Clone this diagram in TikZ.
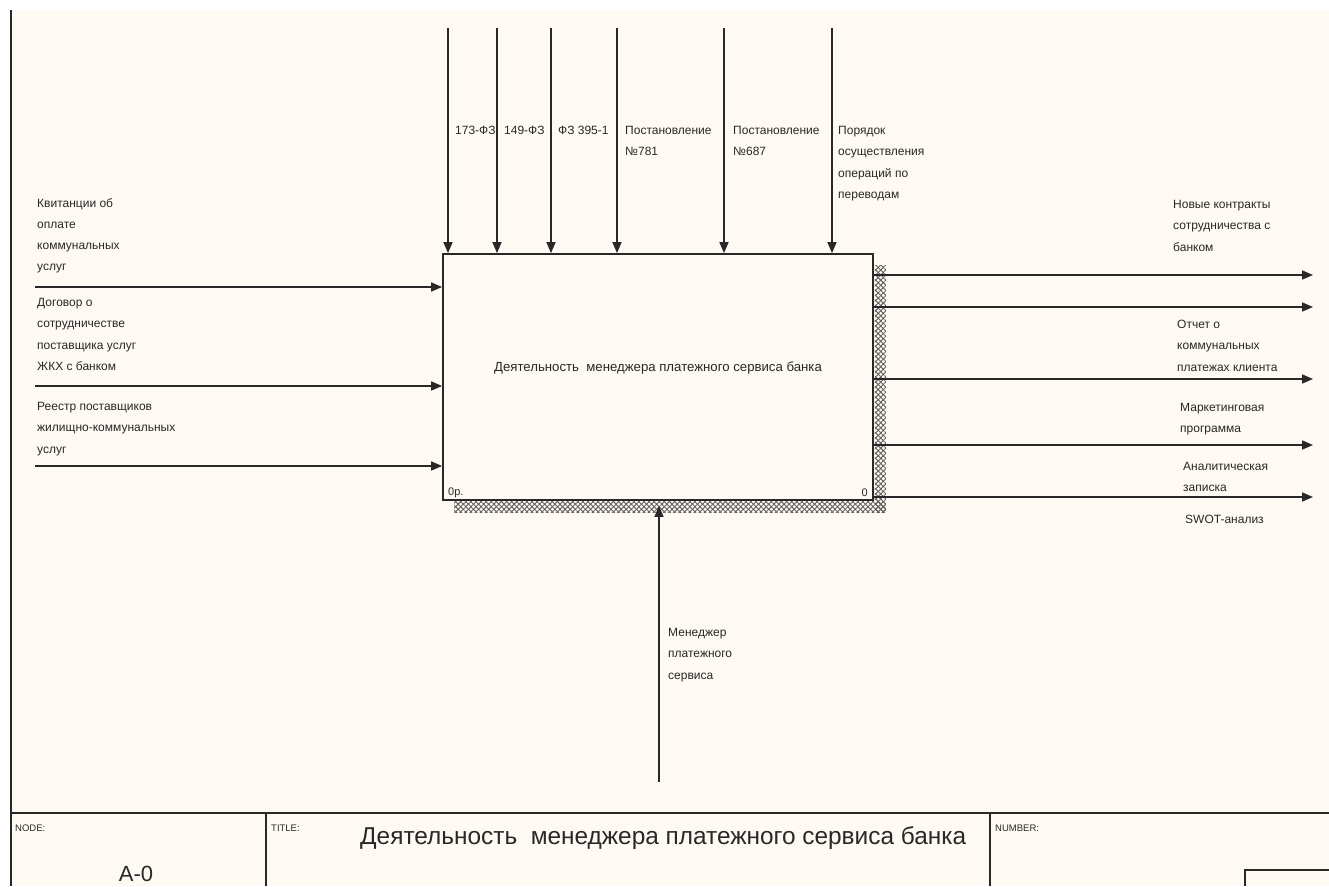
\documentclass[tikz,border=0pt]{standalone}
\usepackage{fontspec}
\setmainfont{Liberation Sans}
\definecolor{paper}{RGB}{254, 250, 243}
\definecolor{ink}{RGB}{40, 40, 40}
\definecolor{hatch}{RGB}{95, 95, 95}
\usetikzlibrary{arrows.meta, positioning, patterns.meta, calc}
\tikzset{
	func/.style={rectangle, draw=ink, fill=paper, line width=1.8pt, minimum width=430pt, minimum height=246pt, inner sep=0pt},
	lbl/.style={anchor=north west, align=left, inner sep=0pt, font=\fontsize{12}{21.3}\selectfont, text=ink},
	small/.style={anchor=west, inner sep=0pt, font=\fontsize{9.5}{10}\selectfont, text=ink},
	arrow/.style={-{Triangle[length=11pt, width=9pt]}, line width=1.6pt, draw=ink},
	frame/.style={line width=1.8pt, draw=ink},
	shade/.style={pattern={Lines[angle=45, distance=3.6pt, line width=0.9pt]}, pattern color=hatch},
	shadex/.style={pattern={Lines[angle=-45, distance=3.6pt, line width=0.9pt]}, pattern color=hatch},
}

\begin{document}
\begin{tikzpicture}[x=1pt, y=-1pt]
	\useasboundingbox (0,0) rectangle (1329,886);
	\fill[paper] (11,10) rectangle (1329,886);
	\node[func] (act) at (658,377) {};
	\node[font=\fontsize{13.2}{15}\selectfont, text=ink] (acttext) at ($(act.center)+(0,-9)$) {Деятельность~~менеджера платежного сервиса банка};
	\node[small, font=\fontsize{11}{12}\selectfont] (actno) at (448,493) {0р.};
	\node[small, font=\fontsize{11}{12}\selectfont, anchor=east] (actnum) at (868,493) {0};
	\foreach \s in {shade, shadex} {
		\fill[\s] ($(act.north east)+(1,12)$) rectangle ($(act.south east)+(12,12)$);
		\fill[\s] ($(act.south west)+(12,1)$) rectangle ($(act.south east)+(12,12)$);
	}
	\foreach \cx/\nm in {448/c1, 497/c2, 551/c3, 617/c4, 724/c5, 832/c6} {
		\coordinate (\nm) at (\cx,28);
		\draw[arrow] (\nm) -- (\nm |- act.north);
	}
	\node[lbl] (l1) at (455,126) {173-ФЗ};
	\node[lbl] (l2) at (504,126) {149-ФЗ};
	\node[lbl] (l3) at (558,126) {ФЗ 395-1};
	\node[lbl] (l4) at (625,126) {Постановление\\№781};
	\node[lbl] (l5) at (733,126) {Постановление\\№687};
	\node[lbl] (l6) at (838,126) {Порядок\\осуществления\\операций по\\переводам};
	\foreach \iy/\nm in {287/i1, 386/i2, 466/i3} {
		\coordinate (\nm) at (35,\iy);
		\draw[arrow] (\nm) -- (\nm -| act.west);
	}
	\node[lbl] (in1) at (37,198) {Квитанции об\\оплате\\коммунальных\\услуг};
	\node[lbl] (in2) at (37,298) {Договор о\\сотрудничестве\\поставщика услуг\\ЖКХ с банком};
	\node[lbl] (in3) at (37,402) {Реестр поставщиков\\жилищно-коммунальных\\услуг};
	\foreach \oy/\nm in {275/o1, 307/o2, 379/o3, 445/o4, 497/o5} {
		\coordinate (\nm) at (1313,\oy);
		\draw[arrow] (\nm -| act.east) -- (\nm);
	}
	\node[lbl] (out1) at (1173,200) {Новые контракты\\сотрудничества с\\банком};
	\node[lbl] (out2) at (1177,320) {Отчет о\\коммунальных\\платежах клиента};
	\node[lbl] (out3) at (1180,403) {Маркетинговая\\программа};
	\node[lbl] (out4) at (1183,462) {Аналитическая\\записка};
	\node[lbl] (out5) at (1185,515) {SWOT-анализ};
	\coordinate (m1) at (659,782);
	\draw[arrow, shorten >=5pt] (m1) -- (m1 |- act.south);
	\node[lbl] (mech) at (668,628) {Менеджер\\платежного\\сервиса};
	\draw[frame, line width=2.5pt] (11,10) -- (11,886);
	\draw[frame] (11,813) -- (1329,813);
	\draw[frame] (266,813) -- (266,886);
	\draw[frame] (990,813) -- (990,886);
	\draw[frame] (1245,886) |- (1329,870);
	\node[small] (nodelbl) at (15,828) {NODE:};
	\node[font=\fontsize{22}{24}\selectfont, text=ink] (nodeval) at (136,874) {A-0};
	\node[small] (titlelbl) at (271,828) {TITLE:};
	\node[small, font=\fontsize{24.4}{27}\selectfont] (titleval) at (360,838) {Деятельность~~менеджера платежного сервиса банка};
	\node[small] (numlbl) at (995,828) {NUMBER:};
\end{tikzpicture}
\end{document}
